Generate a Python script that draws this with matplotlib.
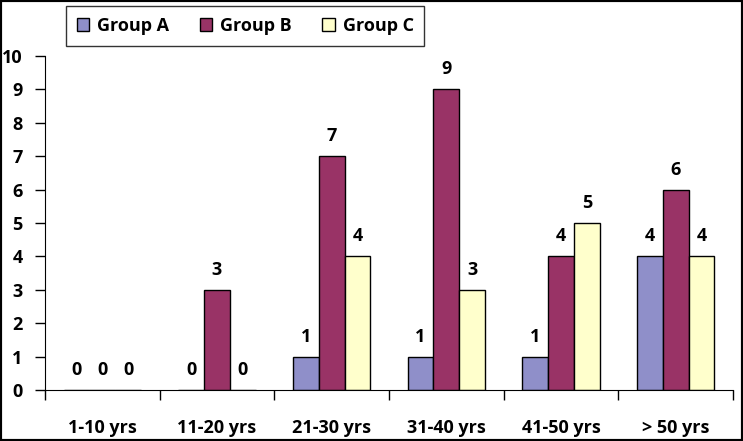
import matplotlib
matplotlib.use("Agg")
import matplotlib.pyplot as plt
from matplotlib.patches import Rectangle
import numpy as np

categories = ["1-10 yrs", "11-20 yrs", "21-30 yrs", "31-40 yrs", "41-50 yrs", "> 50 yrs"]
group_a = [0, 0, 1, 1, 1, 4]
group_b = [0, 3, 7, 9, 4, 6]
group_c = [0, 0, 4, 3, 5, 4]
series_names = ["Group A", "Group B", "Group C"]
colors = ["#8F8FC9", "#993366", "#FFFFCC"]

plt.rcParams['font.family'] = ['Open Sans', 'DejaVu Sans']
plt.rcParams['font.weight'] = 'bold'

W, H = 743, 441
fig = plt.figure(figsize=(W/100, H/100), dpi=100)
ax = fig.add_axes([45/W, (H-390)/H, 688/W, 334/H])

fs = 13
x = np.arange(len(categories))
w = 0.225
series = [group_a, group_b, group_c]
for i, (vals, name, c) in enumerate(zip(series, series_names, colors)):
    xs = x + (i - 1) * w
    ax.bar(xs, vals, width=w, color=c, edgecolor="black", linewidth=1, label=name)
    for xi, v in zip(xs, vals):
        ax.text(xi, v + 0.45, str(v), ha="center", va="baseline", fontsize=fs, fontweight="bold")

ax.set_xlim(-0.5, len(categories) - 0.5)
ax.set_ylim(0, 10)
ax.set_yticks(range(0, 11))
ax.set_yticklabels([str(i) for i in range(0, 11)], fontsize=fs, fontweight="bold")
ax.set_xticks(np.arange(-0.5, len(categories), 1.0))
ax.set_xticklabels([])
ax.set_xticks(x, minor=True)
ax.set_xticklabels(categories, minor=True, fontsize=fs, fontweight="bold")
ax.tick_params(axis="x", which="minor", length=0, pad=21)
ax.tick_params(axis="x", which="major", length=7, direction="out", width=1)
ax.tick_params(axis="y", length=7, direction="out", pad=9, width=1)
ax.spines["top"].set_visible(False)
ax.spines["right"].set_visible(False)

leg = ax.legend(loc="upper left", bbox_to_anchor=(66/W, 1 - 6/H), bbox_transform=fig.transFigure,
                ncol=3, fontsize=fs, frameon=True, fancybox=False, edgecolor="black",
                handlelength=0.67, handleheight=0.67, handletextpad=0.45, columnspacing=1.7,
                borderpad=0.6, borderaxespad=0)
leg.get_frame().set_linewidth(1)

fig.patches.append(Rectangle((0, 0), 1, 1, transform=fig.transFigure, fill=False,
                             edgecolor="black", linewidth=3))

fig.savefig("out.png", dpi=100)
